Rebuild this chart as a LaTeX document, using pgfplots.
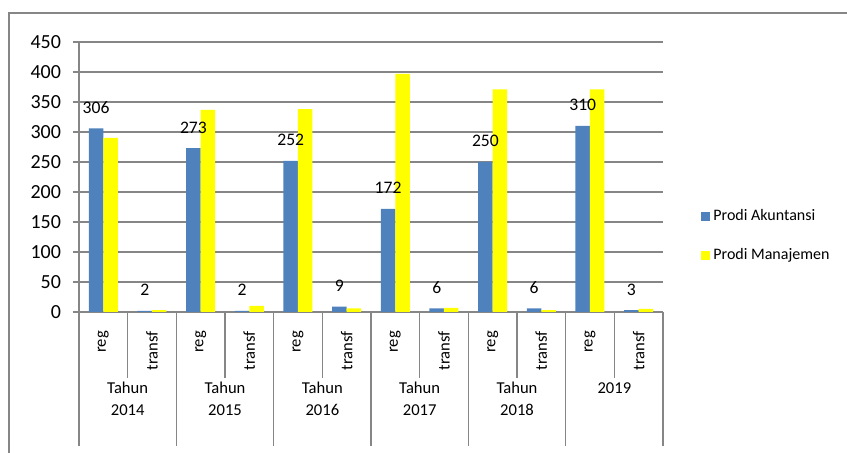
\documentclass[border=0pt]{standalone}
\usepackage{pgfplots}
\pgfplotsset{compat=1.18}
\usepackage{fontspec}
\setmainfont{Carlito}
\definecolor{akun}{RGB}{79,129,189}
\definecolor{mana}{RGB}{255,255,0}
\definecolor{gridg}{RGB}{134,134,134}
\begin{document}
\begin{tikzpicture}
\useasboundingbox (-39.5pt,-70.5pt) rectangle (384pt,156pt);
\draw[gridg, line width=0.6pt] (-35pt,-70.5pt) -- (-35pt,149.5pt) -- (384pt,149.5pt);
\begin{axis}[
  at={(0,0)}, anchor=south west,
  scale only axis, width=292pt, height=135pt,
  xmin=-0.5, xmax=11.5, ymin=0, ymax=450,
  ytick={0,50,...,450},
  xtick={0,...,11},
  xticklabels={reg,transf,reg,transf,reg,transf,reg,transf,reg,transf,reg,transf},
  xticklabel style={rotate=90, anchor=east, font=\fontsize{8.3}{10}\selectfont, xshift=-3pt},
  yticklabel style={font=\fontsize{10}{12}\selectfont, xshift=-2.5pt},
  /pgf/number format/assume math mode=true,
  axis x line=bottom, axis y line=left,
  axis line style={-, gridg, line width=0.6pt},
  xtick style={draw=none},
  ytick style={gridg, line width=0.6pt},
  tick align=outside, major tick length=3pt,
  ymajorgrids, grid style={gridg, line width=0.6pt},
  ybar=0pt, bar width=7.25pt,
  legend style={at={(1,0.283)}, anchor=west, xshift=16pt, draw=none, fill=none,
    font=\fontsize{8}{10}\selectfont, row sep=9.5pt,
    nodes={inner sep=1.5pt}},
  legend cell align=left,
  clip=false,
]
\addplot[fill=akun, draw=none,
  legend image code/.code={\fill[akun] (0pt,-2.25pt) rectangle (4.5pt,2.25pt);},
  nodes near coords,
  every node near coord/.append style={font=\fontsize{8.8}{10}\selectfont, text=black, yshift=4pt}]
  coordinates {(0,306)(1,2)(2,273)(3,2)(4,252)(5,9)(6,172)(7,6)(8,250)(9,6)(10,310)(11,3)};
\addlegendentry{Prodi Akuntansi}
\addplot[fill=mana, draw=none,
  legend image code/.code={\fill[mana] (0pt,-2.25pt) rectangle (4.5pt,2.25pt);}]
  coordinates {(0,290)(1,3)(2,337)(3,10)(4,338)(5,6)(6,397)(7,7)(8,371)(9,3)(10,371)(11,5)};
\addlegendentry{Prodi Manajemen}
% category separators
\pgfplotsinvokeforeach{0.5,2.5,4.5,6.5,8.5,10.5}{
  \draw[gridg, line width=0.6pt] (axis cs:#1,0) -- ++(0pt,-33pt);
}
\pgfplotsinvokeforeach{-0.5,1.5,3.5,5.5,7.5,9.5,11.5}{
  \draw[gridg, line width=0.6pt] (axis cs:#1,0) -- ++(0pt,-67pt);
}
\node[font=\fontsize{8.3}{11}\selectfont, align=center, inner sep=0pt] at ([yshift=-43.5pt]axis cs:0.5,0) {Tahun\\2014};
\node[font=\fontsize{8.3}{11}\selectfont, align=center, inner sep=0pt] at ([yshift=-43.5pt]axis cs:2.5,0) {Tahun\\2015};
\node[font=\fontsize{8.3}{11}\selectfont, align=center, inner sep=0pt] at ([yshift=-43.5pt]axis cs:4.5,0) {Tahun\\2016};
\node[font=\fontsize{8.3}{11}\selectfont, align=center, inner sep=0pt] at ([yshift=-43.5pt]axis cs:6.5,0) {Tahun\\2017};
\node[font=\fontsize{8.3}{11}\selectfont, align=center, inner sep=0pt] at ([yshift=-43.5pt]axis cs:8.5,0) {Tahun\\2018};
\node[font=\fontsize{8.3}{11}\selectfont, inner sep=0pt] at ([yshift=-38pt]axis cs:10.5,0) {2019};
\end{axis}
\end{tikzpicture}
\end{document}
